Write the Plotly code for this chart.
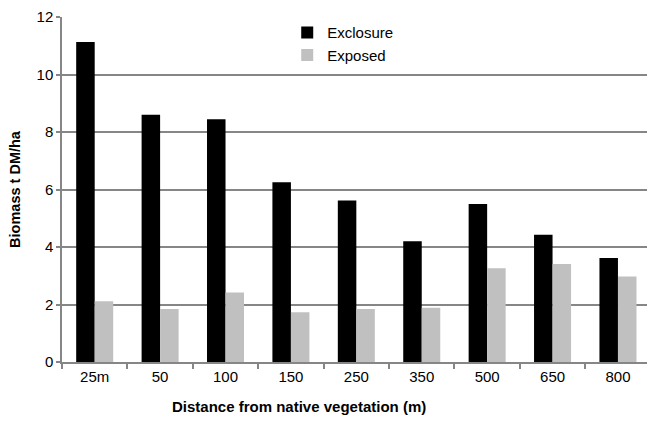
import plotly.graph_objects as go

categories = ["25m", "50", "100", "150", "250", "350", "500", "650", "800"]
exclosure = [11.13, 8.60, 8.44, 6.25, 5.62, 4.20, 5.50, 4.43, 3.62]
exposed = [2.11, 1.84, 2.42, 1.73, 1.84, 1.89, 3.26, 3.41, 2.97]

fig = go.Figure()
fig.add_trace(go.Bar(name="Exclosure", x=categories, y=exclosure,
                     marker=dict(color="#000000", line=dict(width=0))))
fig.add_trace(go.Bar(name="Exposed", x=categories, y=exposed,
                     marker=dict(color="#c0c0c0", line=dict(width=0))))

font = "Liberation Sans, Arial, sans-serif"
fig.update_layout(
    width=647, height=422,
    margin=dict(l=62, r=0, t=17, b=60),
    paper_bgcolor="white", plot_bgcolor="white",
    barmode="group", bargap=0.434, bargroupgap=0,
    font=dict(family=font, size=15, color="#000000"),
    showlegend=True,
    legend=dict(x=0.385, y=1.002, xanchor="left", yanchor="top",
                bgcolor="rgba(0,0,0,0)", font=dict(size=15, family=font),
                tracegroupgap=0, itemwidth=30),
    xaxis=dict(
        range=[-0.5, 8.444],
        showline=True, linecolor="#868686", linewidth=1.5,
        ticks="outside", tickson="boundaries", ticklen=5, tickcolor="#868686", tickwidth=1.5,
        tickfont=dict(size=15, family=font, color="#000000"),
        showgrid=False,
    ),
    yaxis=dict(
        range=[0, 12], dtick=2,
        showline=True, linecolor="#868686", linewidth=1.5,
        ticks="outside", ticklen=4, tickcolor="#868686", tickwidth=1.5,
        showgrid=True, gridcolor="#868686", gridwidth=1.5,
        zeroline=False,
        tickfont=dict(size=15, family=font, color="#000000"),
        title=dict(text="<b>Biomass t DM/ha</b>", font=dict(size=14.5, family=font), standoff=12),
    ),
    annotations=[dict(
        text="<b>Distance from native vegetation (m)</b>",
        xref="paper", yref="paper", x=(299 - 62) / 585, y=(362 - 406) / 345,
        xanchor="center", yanchor="middle", showarrow=False,
        font=dict(size=15, family=font, color="#000000"),
    )],
)

fig.write_html("out.html", config={"displayModeBar": False},
               post_script="document.body.style.margin='0';document.body.style.overflow='hidden';")
